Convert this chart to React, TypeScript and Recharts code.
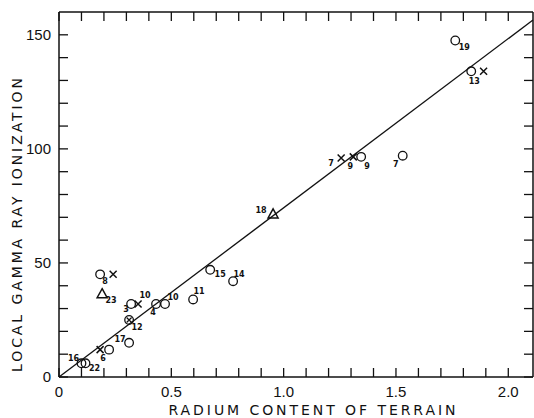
import React from "react"
import { ScatterChart, Scatter, XAxis, YAxis } from "recharts"

// open circles
const circlePoints = [
  { x: 1.764, y: 147.5, label: "19" },
  { x: 1.835, y: 134, label: "13" },
  { x: 1.345, y: 96.5, label: "9" },
  { x: 1.53, y: 97, label: "7" },
  { x: 0.673, y: 47, label: "15" },
  { x: 0.775, y: 42, label: "14" },
  { x: 0.597, y: 34, label: "11" },
  { x: 0.472, y: 32, label: "10" },
  { x: 0.432, y: 32, label: "4" },
  { x: 0.321, y: 32, label: "3" },
  { x: 0.183, y: 45, label: "8" },
  { x: 0.312, y: 15, label: "17" },
  { x: 0.223, y: 12, label: "" },
  { x: 0.1, y: 6, label: "16" },
  { x: 0.118, y: 6, label: "22" },
]
const circleLabelPos = [
  [9, 7], [3, 10], [6, 10], [-7, 9], [10, 5], [6, -7], [6, -8], [8, -7],
  [-3, 8], [-5, 5], [5, 7], [-9, -3], [0, 0], [-8, -5], [9, 5],
]

// crosses
const crossPoints = [
  { x: 1.89, y: 134, label: "" },
  { x: 1.31, y: 96.5, label: "9" },
  { x: 1.256, y: 96, label: "7" },
  { x: 0.352, y: 32, label: "10" },
  { x: 0.241, y: 45, label: "" },
  { x: 0.183, y: 12, label: "6" },
]
const crossLabelPos = [[0, 0], [-3, 10], [-10, 5], [7, -9], [0, 0], [3, 9]]

// triangles
const trianglePoints = [
  { x: 0.953, y: 71.5, label: "18" },
  { x: 0.192, y: 36.5, label: "23" },
]
const triangleLabelPos = [[-12, -3], [9, 7]]

// circle with cross
const crossedCirclePoints = [{ x: 0.312, y: 25, label: "12" }]
const crossedCircleLabelPos = [[8, 8]]

// fitted straight line, end points
const fitLine = [
  { x: 0, y: 0 },
  { x: 2.11, y: 156.5 },
]

const xTicks = [0, 0.1, 0.2, 0.3, 0.4, 0.5, 0.6, 0.7, 0.8, 0.9, 1.0, 1.1, 1.2, 1.3, 1.4, 1.5, 1.6, 1.7, 1.8, 1.9, 2.0]
const xTickLabels: Record<string, string> = { "0": "0", "0.5": "0.5", "1": "1.0", "1.5": "1.5", "2": "2.0" }
const yTicks = [0, 10, 20, 30, 40, 50, 60, 70, 80, 90, 100, 110, 120, 130, 140, 150]
const yTickLabels: Record<string, string> = { "0": "0", "50": "50", "100": "100", "150": "150" }

const X_DOMAIN = [0, 2.11]
const Y_DOMAIN = [0, 160]

const INK = "#111"
const TICK_LEN = 9
const tickFont = "Liberation Sans, Arial, sans-serif"
const labelFont = "DejaVu Sans, sans-serif"
const tickLineStyle = { stroke: INK, strokeWidth: 1.3 }
const axisLineStyle = { stroke: INK, strokeWidth: 1.5 }

const PointLabel = ({ cx, cy, text, pos }: any) =>
  text ? (
    <text
      x={cx + pos[0]}
      y={cy + pos[1]}
      textAnchor="middle"
      dominantBaseline="central"
      fontSize={8}
      fontWeight="bold"
      fontFamily={labelFont}
      fill={INK}
    >
      {text}
    </text>
  ) : null

const makeShape = (kind: string, positions: number[][]) => (props: any) => {
  const { cx, cy, index } = props
  const text = props.payload?.label
  const pos = positions[index] || [0, 0]
  let mark = null
  if (kind === "circle") {
    mark = <circle cx={cx} cy={cy} r={4.3} fill="none" stroke={INK} strokeWidth={1.3} />
  } else if (kind === "cross") {
    mark = (
      <path
        d={`M${cx - 3.5},${cy - 3.5}L${cx + 3.5},${cy + 3.5}M${cx + 3.5},${cy - 3.5}L${cx - 3.5},${cy + 3.5}`}
        stroke={INK}
        strokeWidth={1.5}
      />
    )
  } else if (kind === "triangle") {
    mark = (
      <path
        d={`M${cx},${cy - 5}L${cx + 5},${cy + 4}L${cx - 5},${cy + 4}Z`}
        fill="none"
        stroke={INK}
        strokeWidth={1.5}
      />
    )
  } else {
    mark = (
      <g>
        <circle cx={cx} cy={cy} r={4.3} fill="none" stroke={INK} strokeWidth={1.3} />
        <path
          d={`M${cx - 2.5},${cy - 2.5}L${cx + 2.5},${cy + 2.5}M${cx + 2.5},${cy - 2.5}L${cx - 2.5},${cy + 2.5}`}
          stroke={INK}
          strokeWidth={1.2}
        />
      </g>
    )
  }
  return (
    <g>
      {mark}
      <PointLabel cx={cx} cy={cy} text={text} pos={pos} />
    </g>
  )
}

// tickSize is negative, so tick lines point into the plot; x/y here is the inner end of the tick
const BottomTick = ({ x, y, payload }: any) => {
  const lbl = xTickLabels[String(payload.value)]
  if (lbl === undefined) return <g />
  return (
    <text x={x} y={y + TICK_LEN + 20} textAnchor="middle" fontSize={15} fontFamily={tickFont} fill={INK}>
      {lbl}
    </text>
  )
}

const LeftTick = ({ x, y, payload }: any) => {
  const lbl = yTickLabels[String(payload.value)]
  if (lbl === undefined) return <g />
  return (
    <text x={x - TICK_LEN - 8} y={y + 5} textAnchor="end" fontSize={15} fontFamily={tickFont} fill={INK}>
      {lbl}
    </text>
  )
}

const NoTick = () => <g />

const XTitle = () => (
  <text
    x={312}
    y={415}
    textAnchor="middle"
    fontSize={14}
    fontFamily={labelFont}
    textLength={287}
    lengthAdjust="spacing"
    fill={INK}
  >
    RADIUM CONTENT OF TERRAIN
  </text>
)

const YTitle = () => (
  <text
    x={17}
    y={225}
    transform="rotate(-90 17 225)"
    textAnchor="middle"
    dominantBaseline="central"
    fontSize={14}
    fontFamily={labelFont}
    textLength={294}
    lengthAdjust="spacing"
    fill={INK}
  >
    LOCAL GAMMA RAY IONIZATION
  </text>
)

const frameAxis = {
  type: "number" as const,
  interval: 0 as const,
  tickSize: -TICK_LEN,
  tickMargin: 0,
  tickLine: tickLineStyle,
  axisLine: axisLineStyle,
}

export default function App() {
  return (
    <div style={{ position: "absolute", left: 0, top: 0, background: "#fff" }}>
      <ScatterChart width={534} height={418} margin={{ top: 11, right: 0, bottom: 0, left: 0 }}>
        {/* frame: four visible axes with inward ticks, all on the same domains */}
        <XAxis xAxisId="bottom" dataKey="x" domain={X_DOMAIN} ticks={xTicks} height={41} {...frameAxis} tick={BottomTick} label={{ content: XTitle }} />
        <XAxis xAxisId="top" orientation="top" dataKey="x" domain={X_DOMAIN} ticks={xTicks} height={1} {...frameAxis} tick={NoTick} />
        <YAxis yAxisId="left" dataKey="y" domain={Y_DOMAIN} ticks={yTicks} width={59} {...frameAxis} tick={LeftTick} label={{ content: YTitle }} />
        <YAxis yAxisId="right" orientation="right" dataKey="y" domain={Y_DOMAIN} ticks={yTicks} width={1} {...frameAxis} tick={NoTick} />
        {/* hidden axes for the measured points */}
        <XAxis xAxisId="px" type="number" dataKey="x" domain={X_DOMAIN} hide />
        <YAxis yAxisId="py" type="number" dataKey="y" domain={Y_DOMAIN} hide />

        {/* fitted line */}
        <Scatter xAxisId="top" yAxisId="right" data={fitLine} line={{ stroke: INK, strokeWidth: 1.3 }} shape={NoTick} isAnimationActive={false} />
        <Scatter xAxisId="bottom" yAxisId="left" data={fitLine} shape={NoTick} isAnimationActive={false} />

        <Scatter xAxisId="px" yAxisId="py" data={circlePoints} shape={makeShape("circle", circleLabelPos)} isAnimationActive={false} />
        <Scatter xAxisId="px" yAxisId="py" data={crossPoints} shape={makeShape("cross", crossLabelPos)} isAnimationActive={false} />
        <Scatter xAxisId="px" yAxisId="py" data={trianglePoints} shape={makeShape("triangle", triangleLabelPos)} isAnimationActive={false} />
        <Scatter
          xAxisId="px"
          yAxisId="py"
          data={crossedCirclePoints}
          shape={makeShape("crossed", crossedCircleLabelPos)}
          isAnimationActive={false}
        />
      </ScatterChart>
    </div>
  )
}
